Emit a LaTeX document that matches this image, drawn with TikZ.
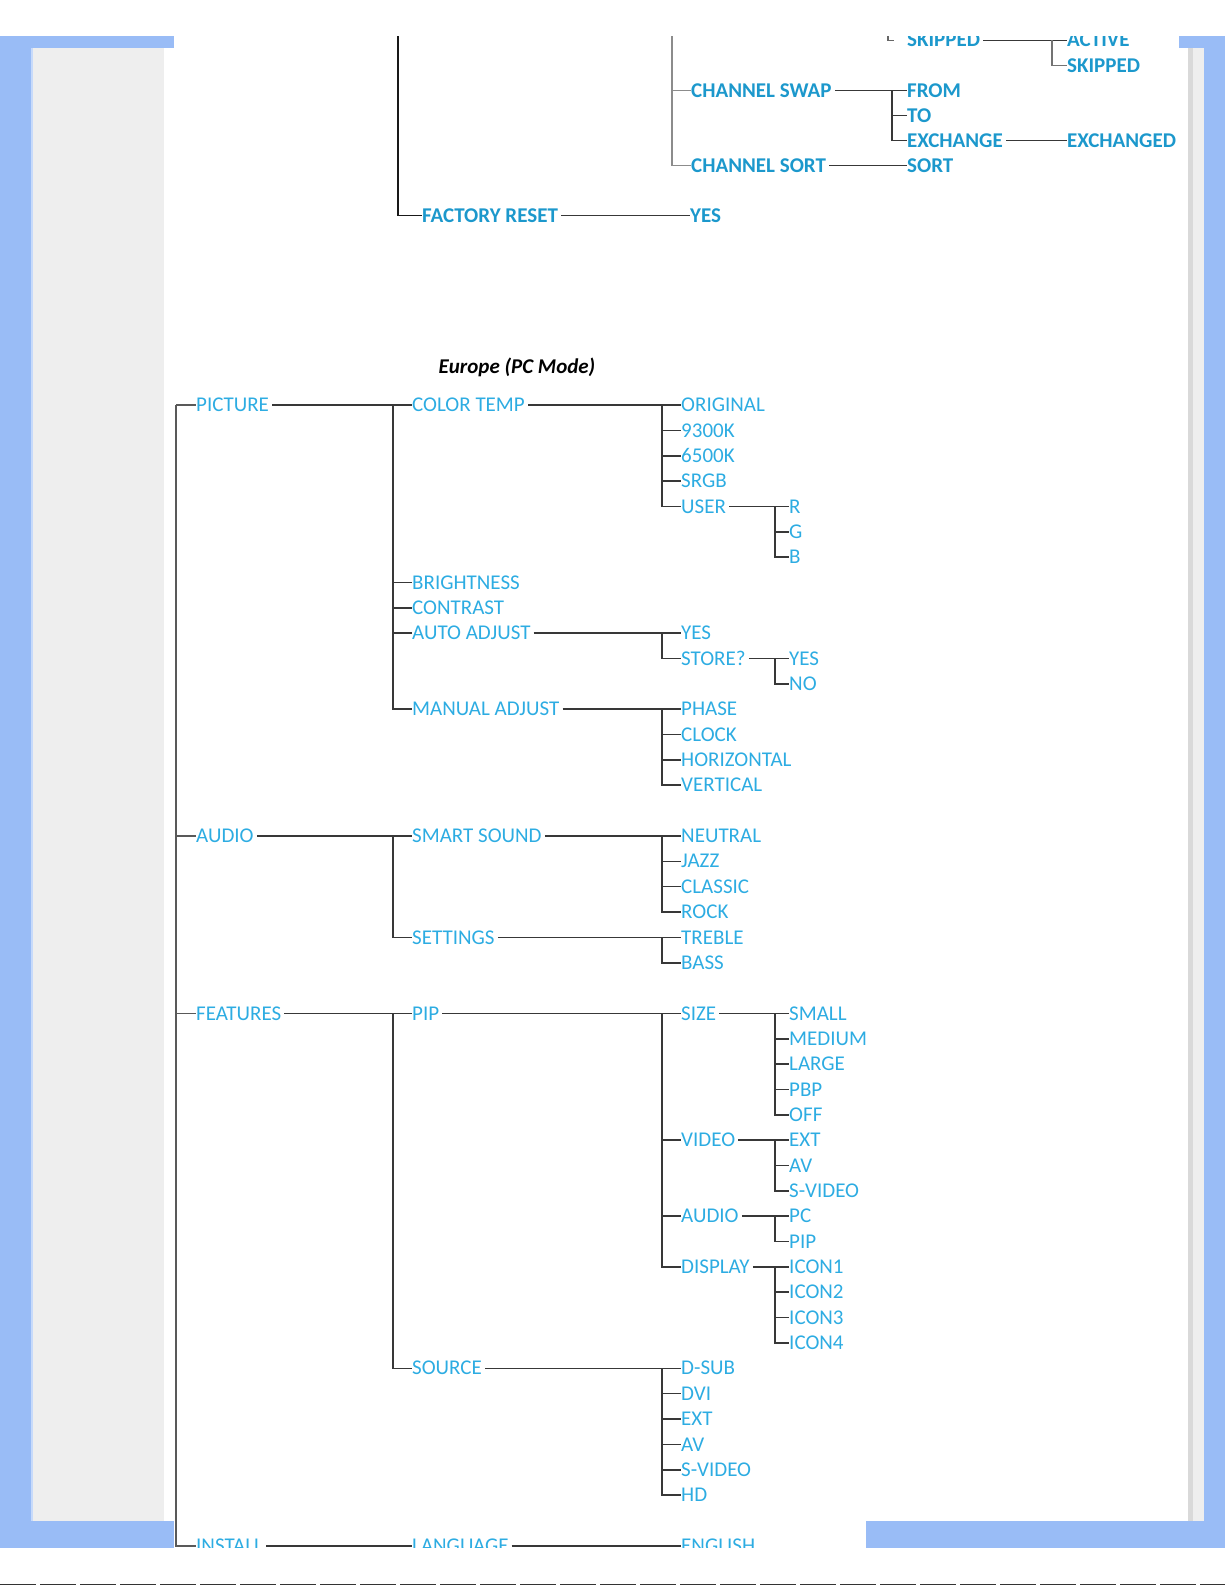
\documentclass[tikz,border=0pt]{standalone}
\usepackage{fontspec}
\setmainfont{Carlito}
\definecolor{lowblue}{RGB}{45,172,226}
\definecolor{topblue}{RGB}{28,152,204}
\definecolor{wiregray}{RGB}{56,56,56}
\definecolor{frameblue}{RGB}{153,188,246}
\definecolor{panelgray}{RGB}{238,238,238}

\begin{document}
\begin{tikzpicture}[x=1pt, y=-1pt,
		item/.style={anchor=west, inner sep=0pt, text height=13.3pt, text depth=0pt, text=lowblue, font=\fontsize{21}{21}\selectfont},
		topitem/.style={item, text=topblue, font=\fontsize{21}{21}\selectfont\bfseries},
		wire/.style={draw=wiregray, line width=1.6pt},
		gap/.style={shorten <=3pt}]
	\useasboundingbox (0, 0) rectangle (1225, 1585);
	\begin{scope}
		\clip (164, 36) rectangle (1188, 1547);
		\begin{scope}[yshift=-40.3pt, y=-25.05pt]
			\node (skip) at (907, 0) [topitem] {SKIPPED};
			\node (active) at (1067, 0) [topitem] {ACTIVE};
			\node (skip2) at (1067, 1) [topitem] {SKIPPED};
			\node (swap) at (691, 2) [topitem] {CHANNEL SWAP};
			\node (from) at (907, 2) [topitem] {FROM};
			\node (to) at (907, 3) [topitem] {TO};
			\node (exch) at (907, 4) [topitem] {EXCHANGE};
			\node (exchd) at (1067, 4) [topitem] {EXCHANGED};
			\node (sort) at (691, 5) [topitem] {CHANNEL SORT};
			\node (sortb) at (907, 5) [topitem] {SORT};
			\node (reset) at (422, 7) [topitem] {FACTORY RESET};
			\node (ryes) at (690, 7) [topitem] {YES};
			\coordinate (resetv) at (398, -1);
			\coordinate (chanv) at (672, -1);
			\coordinate (skipv) at (888, -1);
			\coordinate (skipt) at (894, 0);
			\coordinate (skipb) at (1052, 0);
			\coordinate (swapb) at (892, 2);
			\draw [wire, draw=black!90] (resetv) |- (reset.west);
			\draw [wire, draw=black!45] (chanv) |- (swap.west) (chanv) |- (sort.west);
			\draw [wire, draw=black!60] (skipv) |- (skipt);
			\draw [wire, gap] (skip.east) -- (active.west);
			\draw [wire, draw=black!55] (skipb) |- (skip2.west);
			\draw [wire, gap] (swap.east) -- (from.west);
			\draw [wire] (swapb) |- (to.west) (swapb) |- (exch.west);
			\draw [wire, gap] (exch.east) -- (exchd.west);
			\draw [wire, gap] (sort.east) -- (sortb.west);
			\draw [wire, gap] (reset.east) -- (ryes.west);
		\end{scope}
		\node (title) at (517, 367) [font=\fontsize{21}{21}\selectfont\bfseries\itshape] {Europe (PC Mode)};
		\begin{scope}[yshift=-405pt, y=-25.35pt]
			\node (pic) at (196, 0) [item] {PICTURE};
			\node (ctemp) at (412, 0) [item] {COLOR TEMP};
			\node (orig) at (681, 0) [item] {ORIGINAL};
			\node (k93) at (681, 1) [item] {9300K};
			\node (k65) at (681, 2) [item] {6500K};
			\node (srgb) at (681, 3) [item] {SRGB};
			\node (user) at (681, 4) [item] {USER};
			\node (ur) at (789, 4) [item] {R};
			\node (ug) at (789, 5) [item] {G};
			\node (ub) at (789, 6) [item] {B};
			\node (bright) at (412, 7) [item] {BRIGHTNESS};
			\node (contr) at (412, 8) [item] {CONTRAST};
			\node (auto) at (412, 9) [item] {AUTO ADJUST};
			\node (ayes) at (681, 9) [item] {YES};
			\node (store) at (681, 10) [item] {STORE?};
			\node (syes) at (789, 10) [item] {YES};
			\node (sno) at (789, 11) [item] {NO};
			\node (manual) at (412, 12) [item] {MANUAL ADJUST};
			\node (phase) at (681, 12) [item] {PHASE};
			\node (clock) at (681, 13) [item] {CLOCK};
			\node (horiz) at (681, 14) [item] {HORIZONTAL};
			\node (vert) at (681, 15) [item] {VERTICAL};
			\node (audio) at (196, 17) [item] {AUDIO};
			\node (smart) at (412, 17) [item] {SMART SOUND};
			\node (neutral) at (681, 17) [item] {NEUTRAL};
			\node (jazz) at (681, 18) [item] {JAZZ};
			\node (classic) at (681, 19) [item] {CLASSIC};
			\node (rock) at (681, 20) [item] {ROCK};
			\node (settings) at (412, 21) [item] {SETTINGS};
			\node (treble) at (681, 21) [item] {TREBLE};
			\node (bass) at (681, 22) [item] {BASS};
			\node (feat) at (196, 24) [item] {FEATURES};
			\node (pip) at (412, 24) [item] {PIP};
			\node (size) at (681, 24) [item] {SIZE};
			\node (small) at (789, 24) [item] {SMALL};
			\node (medium) at (789, 25) [item] {MEDIUM};
			\node (large) at (789, 26) [item] {LARGE};
			\node (pbp) at (789, 27) [item] {PBP};
			\node (off) at (789, 28) [item] {OFF};
			\node (video) at (681, 29) [item] {VIDEO};
			\node (vext) at (789, 29) [item] {EXT};
			\node (vav) at (789, 30) [item] {AV};
			\node (vsvid) at (789, 31) [item] {S-VIDEO};
			\node (paudio) at (681, 32) [item] {AUDIO};
			\node (apc) at (789, 32) [item] {PC};
			\node (apip) at (789, 33) [item] {PIP};
			\node (disp) at (681, 34) [item] {DISPLAY};
			\node (icon1) at (789, 34) [item] {ICON1};
			\node (icon2) at (789, 35) [item] {ICON2};
			\node (icon3) at (789, 36) [item] {ICON3};
			\node (icon4) at (789, 37) [item] {ICON4};
			\node (source) at (412, 38) [item] {SOURCE};
			\node (dsub) at (681, 38) [item] {D-SUB};
			\node (dvi) at (681, 39) [item] {DVI};
			\node (sext) at (681, 40) [item] {EXT};
			\node (sav) at (681, 41) [item] {AV};
			\node (ssvid) at (681, 42) [item] {S-VIDEO};
			\node (hd) at (681, 43) [item] {HD};
			\node (install) at (196, 45) [item] {INSTALL};
			\node (lang) at (412, 45) [item] {LANGUAGE};
			\node (english) at (681, 45) [item] {ENGLISH};
			\coordinate (rootv) at (176, 0);
			\coordinate (picv) at (393, 0);
			\coordinate (ctempv) at (662, 0);
			\coordinate (userv) at (775, 4);
			\coordinate (autov) at (662, 9);
			\coordinate (storev) at (775, 10);
			\coordinate (manualv) at (662, 12);
			\coordinate (audiov) at (393, 17);
			\coordinate (smartv) at (662, 17);
			\coordinate (settingsv) at (662, 21);
			\coordinate (featv) at (393, 24);
			\coordinate (pipv) at (662, 24);
			\coordinate (sizev) at (775, 24);
			\coordinate (videov) at (775, 29);
			\coordinate (paudiov) at (775, 32);
			\coordinate (dispv) at (775, 34);
			\coordinate (sourcev) at (662, 38);
			\draw [wire, draw=black!65] (rootv) -- (pic.west) (rootv) |- (audio.west) (rootv) |- (feat.west) (rootv) |- (install.west);
			\draw [wire, gap] (pic.east) -- (ctemp.west);
			\draw [wire] (picv) |- (bright.west) (picv) |- (contr.west) (picv) |- (auto.west) (picv) |- (manual.west);
			\draw [wire, gap] (ctemp.east) -- (orig.west);
			\draw [wire] (ctempv) |- (k93.west) (ctempv) |- (k65.west) (ctempv) |- (srgb.west) (ctempv) |- (user.west);
			\draw [wire, gap] (user.east) -- (ur.west);
			\draw [wire] (userv) |- (ug.west) (userv) |- (ub.west);
			\draw [wire, gap] (auto.east) -- (ayes.west);
			\draw [wire] (autov) |- (store.west);
			\draw [wire, gap] (store.east) -- (syes.west);
			\draw [wire] (storev) |- (sno.west);
			\draw [wire, gap] (manual.east) -- (phase.west);
			\draw [wire] (manualv) |- (clock.west) (manualv) |- (horiz.west) (manualv) |- (vert.west);
			\draw [wire, gap] (audio.east) -- (smart.west);
			\draw [wire] (audiov) |- (settings.west);
			\draw [wire, gap] (smart.east) -- (neutral.west);
			\draw [wire] (smartv) |- (jazz.west) (smartv) |- (classic.west) (smartv) |- (rock.west);
			\draw [wire, gap] (settings.east) -- (treble.west);
			\draw [wire] (settingsv) |- (bass.west);
			\draw [wire, gap] (feat.east) -- (pip.west);
			\draw [wire] (featv) |- (source.west);
			\draw [wire, gap] (pip.east) -- (size.west);
			\draw [wire] (pipv) |- (video.west) (pipv) |- (paudio.west) (pipv) |- (disp.west);
			\draw [wire, gap] (size.east) -- (small.west);
			\draw [wire] (sizev) |- (medium.west) (sizev) |- (large.west) (sizev) |- (pbp.west) (sizev) |- (off.west);
			\draw [wire, gap] (video.east) -- (vext.west);
			\draw [wire] (videov) |- (vav.west) (videov) |- (vsvid.west);
			\draw [wire, gap] (paudio.east) -- (apc.west);
			\draw [wire] (paudiov) |- (apip.west);
			\draw [wire, gap] (disp.east) -- (icon1.west);
			\draw [wire] (dispv) |- (icon2.west) (dispv) |- (icon3.west) (dispv) |- (icon4.west);
			\draw [wire, gap] (source.east) -- (dsub.west);
			\draw [wire] (sourcev) |- (dvi.west) (sourcev) |- (sext.west) (sourcev) |- (sav.west) (sourcev) |- (ssvid.west) (sourcev) |- (hd.west);
			\draw [wire, gap] (install.east) -- (lang.west);
			\draw [wire, gap] (lang.east) -- (english.west);
		\end{scope}
	\end{scope}
	\fill [frameblue] (0, 36) rectangle (174, 48);
	\fill [frameblue] (1179, 36) rectangle (1225, 48);
	\fill [frameblue] (0, 36) rectangle (31, 1548);
	\fill [frameblue] (1204, 36) rectangle (1225, 1548);
	\fill [frameblue] (0, 1521) rectangle (174, 1548);
	\fill [frameblue] (866, 1521) rectangle (1225, 1548);
	\fill [frameblue!55!white] (31, 48) rectangle (33, 1521);
	\fill [panelgray] (33, 48) rectangle (164, 1521);
	\fill [black!15] (1188, 48) rectangle (1193, 1521);
	\fill [panelgray] (1193, 48) rectangle (1204, 1521);
	\draw [black!80, line width=1pt, dash pattern=on 36pt off 4pt] (0, 1584.5) -- (1225, 1584.5);
\end{tikzpicture}
\end{document}
